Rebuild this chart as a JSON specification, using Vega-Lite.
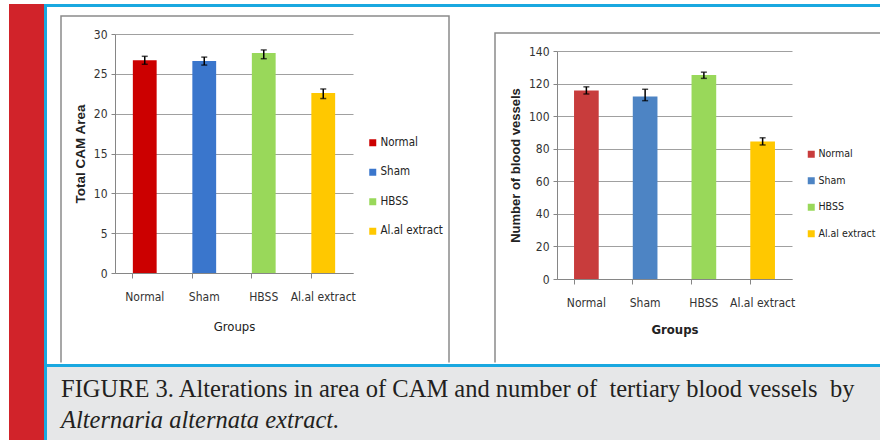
{
  "$schema": "https://vega.github.io/schema/vega-lite/v6.json",
  "padding": {"left": 9, "top": 4, "right": 0, "bottom": 0},
  "background": "white",
  "spacing": 0,
  "config": {"view": {"stroke": null}, "font": "Liberation Sans"},
  "resolve": {"scale": {"color": "independent"}, "legend": {"color": "independent"}},
  "hconcat": [
    {"width": 35, "height": 436, "view": {"fill": "#d1232a"}, "data": {"values": []}, "mark": "rect"},
    {"width": 3, "height": 436, "view": {"fill": "#19a8e0"}, "data": {"values": []}, "mark": "rect"},
    {
      "spacing": 0,
      "resolve": {"scale": {"color": "independent"}, "legend": {"color": "independent"}},
      "vconcat": [
        {"width": 833, "height": 3, "view": {"fill": "#19a8e0"}, "data": {"values": []}, "mark": "rect"},
        {
          "spacing": 0,
          "resolve": {"scale": {"color": "independent"}, "legend": {"color": "independent"}},
          "hconcat": [
            {"width": 13, "height": 356, "data": {"values": []}, "mark": "rect"},
            {
              "spacing": 0,
              "resolve": {"scale": {"color": "independent"}, "legend": {"color": "independent"}},
              "vconcat": [
                {"width": 1, "height": 8, "data": {"values": []}, "mark": "rect"},
                {
                  "width": 388,
                  "height": 346.5,
                  "view": {"stroke": "#8a8a8a", "strokeWidth": 1.5, "fill": "white", "strokeDash": [734.5, 388, 400]},
                  "data": {"values": [
                    {"group": "Normal", "value": 26.7, "lo": 26.2, "hi": 27.2},
                    {"group": "Sham", "value": 26.6, "lo": 26.1, "hi": 27.1},
                    {"group": "HBSS", "value": 27.6, "lo": 26.9, "hi": 28.0},
                    {"group": "Al.al extract", "value": 22.6, "lo": 21.9, "hi": 23.1}
                  ]},
                  "encoding": {
                    "x": {
                      "field": "group", "type": "nominal", "sort": null, "title": "Groups",
                      "scale": {"range": [54, 292], "paddingInner": 0.6, "paddingOuter": 0.3},
                      "axis": {"labelAngle": 0, "bandPosition": 0, "tickSize": 5, "labelPadding": 13, "offset": -89.5,
                        "domainColor": "#868686", "tickColor": "#868686",
                        "labelFont": "DejaVu Sans Condensed", "labelFontSize": 12, "labelColor": "#333333",
                        "titleFont": "DejaVu Sans Condensed", "titleFontSize": 13, "titleFontWeight": "normal", "titleColor": "#222222", "titlePadding": 18}
                    }
                  },
                  "layer": [
                    {
                      "mark": {"type": "bar"},
                      "encoding": {
                        "y": {"field": "value", "type": "quantitative", "title": "Total CAM Area",
                          "scale": {"domain": [0, 30], "nice": false, "range": [257, 18]},
                          "axis": {"values": [0, 5, 10, 15, 20, 25, 30], "labelOverlap": false, "grid": true, "gridColor": "#a0a0a0", "offset": -54,
                            "domainColor": "#868686", "tickColor": "#868686", "tickSize": 4, "labelPadding": 4,
                            "labelFont": "DejaVu Sans Condensed", "labelFontSize": 12, "labelColor": "#333333",
                            "titleFont": "Liberation Sans", "titleFontWeight": "bold", "titleFontSize": 13.5, "titleColor": "#222222", "titlePadding": 6}
                        },
                        "color": {"field": "group", "type": "nominal", "sort": null,
                          "scale": {"domain": ["Normal", "Sham", "HBSS", "Al.al extract"], "range": ["#cc0000", "#3a76cc", "#99d85a", "#ffc800"]},
                          "legend": {"orient": "none", "legendX": 306, "legendY": 121, "title": null, "symbolType": "square", "symbolSize": 49,
                            "symbolStrokeWidth": 0, "labelFont": "DejaVu Sans Condensed", "labelFontSize": 11.5,
                            "labelColor": "#222222", "rowPadding": 16.5, "labelOffset": 2}
                        }
                      }
                    },
                    {
                      "mark": {"type": "errorbar", "ticks": {"size": 6, "thickness": 1.5}, "rule": {"strokeWidth": 1.5}, "color": "black"},
                      "encoding": {
                        "y": {"field": "lo", "type": "quantitative", "title": "Total CAM Area"},
                        "y2": {"field": "hi"}
                      }
                    }
                  ]
                }
              ]
            },
            {"width": 44, "height": 1, "data": {"values": []}, "mark": "rect"},
            {
              "spacing": 0,
              "resolve": {"scale": {"color": "independent"}, "legend": {"color": "independent"}},
              "vconcat": [
                {"width": 1, "height": 25, "data": {"values": []}, "mark": "rect"},
                {
                  "width": 386,
                  "height": 329.5,
                  "view": {"stroke": "#8a8a8a", "strokeWidth": 1.5, "fill": "white", "strokeDash": [715.5, 386, 400]},
                  "data": {"values": [
                    {"group": "Normal", "value": 115.8, "lo": 113.6, "hi": 118.0},
                    {"group": "Sham", "value": 112.0, "lo": 109.5, "hi": 116.5},
                    {"group": "HBSS", "value": 125.2, "lo": 123.2, "hi": 127.0},
                    {"group": "Al.al extract", "value": 84.5, "lo": 82.3, "hi": 86.7}
                  ]},
                  "encoding": {
                    "x": {
                      "field": "group", "type": "nominal", "sort": null, "title": "Groups",
                      "scale": {"range": [62, 297], "paddingInner": 0.58, "paddingOuter": 0.29},
                      "axis": {"labelAngle": 0, "bandPosition": 0, "tickSize": 5, "labelPadding": 13, "offset": -83.5,
                        "domainColor": "#868686", "tickColor": "#868686",
                        "labelFont": "DejaVu Sans Condensed", "labelFontSize": 12, "labelColor": "#333333",
                        "titleFont": "DejaVu Sans Condensed", "titleFontSize": 13, "titleFontWeight": "bold", "titleColor": "#222222", "titlePadding": 15}
                    }
                  },
                  "layer": [
                    {
                      "mark": {"type": "bar"},
                      "encoding": {
                        "y": {"field": "value", "type": "quantitative", "title": "Number of blood vessels",
                          "scale": {"domain": [0, 140], "nice": false, "range": [246, 18]},
                          "axis": {"values": [0, 20, 40, 60, 80, 100, 120, 140], "labelOverlap": false, "grid": true, "gridColor": "#a0a0a0", "offset": -62,
                            "domainColor": "#868686", "tickColor": "#868686", "tickSize": 4, "labelPadding": 4,
                            "labelFont": "DejaVu Sans Condensed", "labelFontSize": 12, "labelColor": "#333333",
                            "titleFont": "Liberation Sans", "titleFontWeight": "bold", "titleFontSize": 13, "titleColor": "#222222", "titlePadding": 6}
                        },
                        "color": {"field": "group", "type": "nominal", "sort": null,
                          "scale": {"domain": ["Normal", "Sham", "HBSS", "Al.al extract"], "range": ["#c83c3c", "#4d84c4", "#99d85a", "#ffc800"]},
                          "legend": {"orient": "none", "legendX": 311, "legendY": 116, "title": null, "symbolType": "square", "symbolSize": 49,
                            "symbolStrokeWidth": 0, "labelFont": "DejaVu Sans Condensed", "labelFontSize": 10.5,
                            "labelColor": "#222222", "rowPadding": 15.5, "labelOffset": 2}
                        }
                      }
                    },
                    {
                      "mark": {"type": "errorbar", "ticks": {"size": 6, "thickness": 1.5}, "rule": {"strokeWidth": 1.5}, "color": "black"},
                      "encoding": {
                        "y": {"field": "lo", "type": "quantitative", "title": "Number of blood vessels"},
                        "y2": {"field": "hi"}
                      }
                    }
                  ]
                }
              ]
            }
          ]
        },
        {"width": 833, "height": 3, "view": {"fill": "#19a8e0"}, "data": {"values": []}, "mark": "rect"},
        {
          "width": 833,
          "height": 74,
          "view": {"fill": "#e6e7e8"},
          "data": {"values": []},
          "mark": "rect",
          "title": {
            "text": "FIGURE 3. Alterations in area of CAM and number of\u00a0 tertiary blood vessels\u00a0 by",
            "subtitle": "Alternaria alternata extract.",
            "anchor": "start",
            "frame": "group",
            "orient": "top",
            "offset": -66,
            "dx": 14,
            "font": "Liberation Serif",
            "fontSize": 24.5,
            "fontWeight": "normal",
            "color": "#231f20",
            "subtitleFont": "Liberation Serif",
            "subtitleFontSize": 24.5,
            "subtitleFontStyle": "italic",
            "subtitleColor": "#231f20",
            "subtitlePadding": 6.5
          }
        }
      ]
    }
  ]
}
